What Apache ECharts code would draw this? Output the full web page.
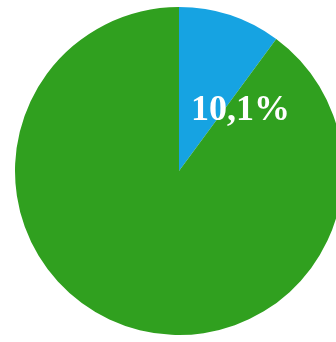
<!DOCTYPE html>
<html>
<head>
<meta charset="utf-8">
<style>
  html, body { margin: 0; padding: 0; background: #ffffff; }
  #chart { width: 336px; height: 342px; }
</style>
<script src="https://cdn.jsdelivr.net/npm/echarts@6/dist/echarts.min.js"></script>
</head>
<body>
<div id="chart"></div>
<script>
// Share of the two groups (percent)
const categories = ['Blau', 'Grün'];
const values = [10.1, 89.9];
const labels = ['10,1%', ''];
const colors = ['#16a3e2', '#30a01f'];

const chart = echarts.init(document.getElementById('chart'), null, { renderer: 'canvas' });

const data = categories.map((name, i) => ({
  name: name,
  value: values[i],
  itemStyle: { color: colors[i] },
  label: {
    show: labels[i] !== '',
    formatter: labels[i],
    position: 'inside',
    offset: [35, 20],
    color: '#ffffff',
    fontFamily: 'Liberation Serif',
    fontSize: 36,
    fontWeight: 'bold'
  }
}));

chart.setOption({
  animation: false,
  backgroundColor: '#ffffff',
  series: [{
    type: 'pie',
    center: [179, 171],
    radius: [0, 164],
    startAngle: 90,
    clockwise: true,
    avoidLabelOverlap: false,
    labelLine: { show: false },
    emphasis: { disabled: true },
    itemStyle: { borderWidth: 0 },
    data: data
  }]
});
</script>
</body>
</html>
